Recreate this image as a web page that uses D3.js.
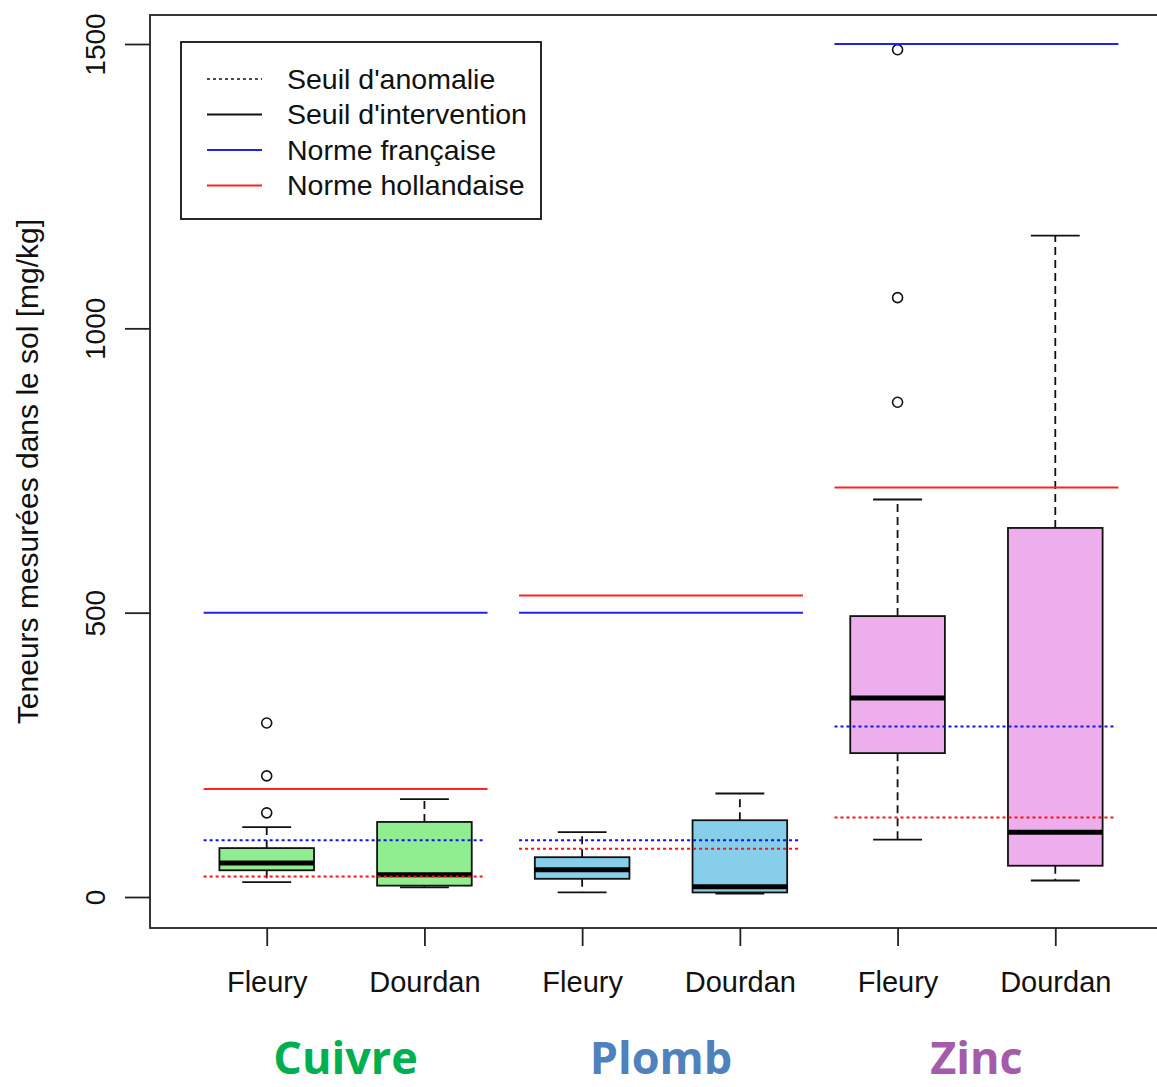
<!DOCTYPE html>
<html>
<head>
<meta charset="utf-8">
<script src="https://cdn.jsdelivr.net/npm/d3@7/dist/d3.min.js"></script>
<style>
  html, body { margin: 0; padding: 0; background: #fff; }
  svg { display: block; }
</style>
</head>
<body>
<svg id="chart" width="1157" height="1087"></svg>
<script>
// ---- Data ----
const sites = ["Fleury", "Dourdan", "Fleury", "Dourdan", "Fleury", "Dourdan"];
const metals = ["Cuivre", "Plomb", "Zinc"];
const metalColors = ["#00B050", "#4F81BD", "#A35BAA"];
const boxFills = ["#90EE90", "#87CEEB", "#EEAEEE"];

const mins     = [26, 17, 8, 6, 101, 29];
const q1s      = [47, 20, 32, 8, 253, 55];
const medians  = [60, 39, 48, 18, 350, 114];
const q3s      = [86, 132, 70, 135, 494, 649];
const maxs     = [123, 172, 114, 182, 699, 1163];
const outliers = [[148, 213, 306], [], [], [], [870, 1054, 1490], []];

// thresholds per metal
const normeFrancaise      = [500, 500, 1500];
const normeHollandaise    = [190, 530, 720];
const anomalieFrancaise   = [100, 100, 300];
const anomalieHollandaise = [36, 85, 140];

const yTicks = [0, 500, 1000, 1500];
const legendLabels = ["Seuil d'anomalie", "Seuil d'intervention", "Norme française", "Norme hollandaise"];

// ---- Layout ----
const svg = d3.select("#chart");
const pLeft = 150, pTop = 15, pRight = 1172, pBottom = 928;

const x = d3.scaleLinear().domain([0.26, 6.74]).range([pLeft, pRight]);
const y = d3.scaleLinear().domain([-54.5, 1551]).range([pBottom, pTop]);

const font = "'Liberation Sans', Arial, sans-serif";
const unit = x(1) - x(0);
const halfBox = 0.3 * unit;
const halfCap = 0.155 * unit;

// ---- Boxplots ----
const boxes = svg.append("g");
sites.forEach((s, i) => {
  const cx = x(i + 1);
  const fill = boxFills[Math.floor(i / 2)];
  const g = boxes.append("g");
  g.append("line").attr("x1", cx).attr("x2", cx).attr("y1", y(q3s[i])).attr("y2", y(maxs[i]))
    .attr("stroke", "#111").attr("stroke-width", 1.8).attr("stroke-dasharray", "8,5");
  g.append("line").attr("x1", cx).attr("x2", cx).attr("y1", y(q1s[i])).attr("y2", y(mins[i]))
    .attr("stroke", "#111").attr("stroke-width", 1.8).attr("stroke-dasharray", "8,5");
  [mins[i], maxs[i]].forEach(v => {
    g.append("line").attr("x1", cx - halfCap).attr("x2", cx + halfCap).attr("y1", y(v)).attr("y2", y(v))
      .attr("stroke", "#111").attr("stroke-width", 1.8);
  });
  g.append("rect").attr("x", cx - halfBox).attr("width", 2 * halfBox)
    .attr("y", y(q3s[i])).attr("height", y(q1s[i]) - y(q3s[i]))
    .attr("fill", fill).attr("stroke", "#111").attr("stroke-width", 1.8);
  g.append("line").attr("x1", cx - halfBox).attr("x2", cx + halfBox).attr("y1", y(medians[i])).attr("y2", y(medians[i]))
    .attr("stroke", "#000").attr("stroke-width", 5);
  outliers[i].forEach(v => {
    g.append("circle").attr("cx", cx).attr("cy", y(v)).attr("r", 5)
      .attr("fill", "none").attr("stroke", "#111").attr("stroke-width", 1.6);
  });
});

// ---- Threshold segments ----
const thr = svg.append("g");
metals.forEach((m, k) => {
  const x1 = x(2 * k + 1 - 0.4), x2 = x(2 * k + 2 + 0.4), x2d = x(2 * k + 2 + 0.37);
  thr.append("line").attr("x1", x1).attr("x2", x2).attr("y1", y(normeFrancaise[k])).attr("y2", y(normeFrancaise[k]))
    .attr("stroke", "#2222EE").attr("stroke-width", 2);
  thr.append("line").attr("x1", x1).attr("x2", x2).attr("y1", y(normeHollandaise[k])).attr("y2", y(normeHollandaise[k]))
    .attr("stroke", "#FF2222").attr("stroke-width", 2);
  thr.append("line").attr("x1", x1).attr("x2", x2d).attr("y1", y(anomalieFrancaise[k])).attr("y2", y(anomalieFrancaise[k]))
    .attr("stroke", "#1111EE").attr("stroke-width", 2).attr("stroke-dasharray", "3,3");
  thr.append("line").attr("x1", x1).attr("x2", x2d).attr("y1", y(anomalieHollandaise[k])).attr("y2", y(anomalieHollandaise[k]))
    .attr("stroke", "#FF1111").attr("stroke-width", 2).attr("stroke-dasharray", "3,3");
});

// ---- Frame ----
svg.append("rect").attr("x", pLeft).attr("y", pTop).attr("width", pRight - pLeft).attr("height", pBottom - pTop)
  .attr("fill", "none").attr("stroke", "#222").attr("stroke-width", 1.8);

// ---- Axes ----
const yAxis = svg.append("g").attr("transform", `translate(${pLeft},0)`)
  .call(d3.axisLeft(y).tickValues(yTicks).tickSize(25).tickSizeOuter(0).tickFormat(d3.format("d")));
yAxis.select(".domain").remove();
yAxis.selectAll(".tick line").attr("stroke", "#222").attr("stroke-width", 1.8);
yAxis.selectAll(".tick text")
  .attr("x", null).attr("dy", null)
  .attr("transform", "translate(-45,0) rotate(-90)")
  .attr("text-anchor", "middle")
  .attr("fill", "#111")
  .style("font-family", font).style("font-size", "28px");

const xAxis = svg.append("g").attr("transform", `translate(0,${pBottom})`)
  .call(d3.axisBottom(x).tickValues([1, 2, 3, 4, 5, 6]).tickSize(18).tickSizeOuter(0).tickFormat(d => sites[d - 1]));
xAxis.select(".domain").remove();
xAxis.selectAll(".tick line").attr("stroke", "#222").attr("stroke-width", 1.8);
xAxis.selectAll(".tick text")
  .attr("y", 64).attr("dy", null)
  .attr("fill", "#111")
  .style("font-family", font).style("font-size", "29px");

svg.append("text")
  .attr("transform", `translate(38,${(pTop + pBottom) / 2}) rotate(-90)`)
  .attr("text-anchor", "middle")
  .attr("fill", "#111")
  .style("font-family", font).style("font-size", "30px")
  .text("Teneurs mesurées dans le sol [mg/kg]");

// ---- Metal labels ----
metals.forEach((m, k) => {
  svg.append("text")
    .attr("x", x(2 * k + 1.5)).attr("y", 1074)
    .attr("text-anchor", "middle")
    .attr("fill", metalColors[k])
    .style("font-family", "'Open Sans', sans-serif").style("font-weight", "bold").style("font-size", "45px")
    .text(m);
});

// ---- Legend ----
const leg = svg.append("g");
leg.append("rect").attr("x", 181).attr("y", 42).attr("width", 360).attr("height", 177)
  .attr("fill", "#fff").attr("stroke", "#111").attr("stroke-width", 1.8);
const legStyles = [
  { color: "#111", dash: "3,3" },
  { color: "#111", dash: null },
  { color: "#2222EE", dash: null },
  { color: "#FF2222", dash: null }
];
legendLabels.forEach((lab, i) => {
  const ly = 79 + i * 35.5;
  const ln = leg.append("line").attr("x1", 207).attr("x2", 262).attr("y1", ly).attr("y2", ly)
    .attr("stroke", legStyles[i].color).attr("stroke-width", 1.8);
  if (legStyles[i].dash) ln.attr("stroke-dasharray", legStyles[i].dash).attr("stroke-width", 1.5);
  leg.append("text").attr("x", 287).attr("y", ly).attr("dy", "0.35em")
    .attr("fill", "#111")
    .style("font-family", font).style("font-size", "28.5px")
    .text(lab);
});
</script>
</body>
</html>
